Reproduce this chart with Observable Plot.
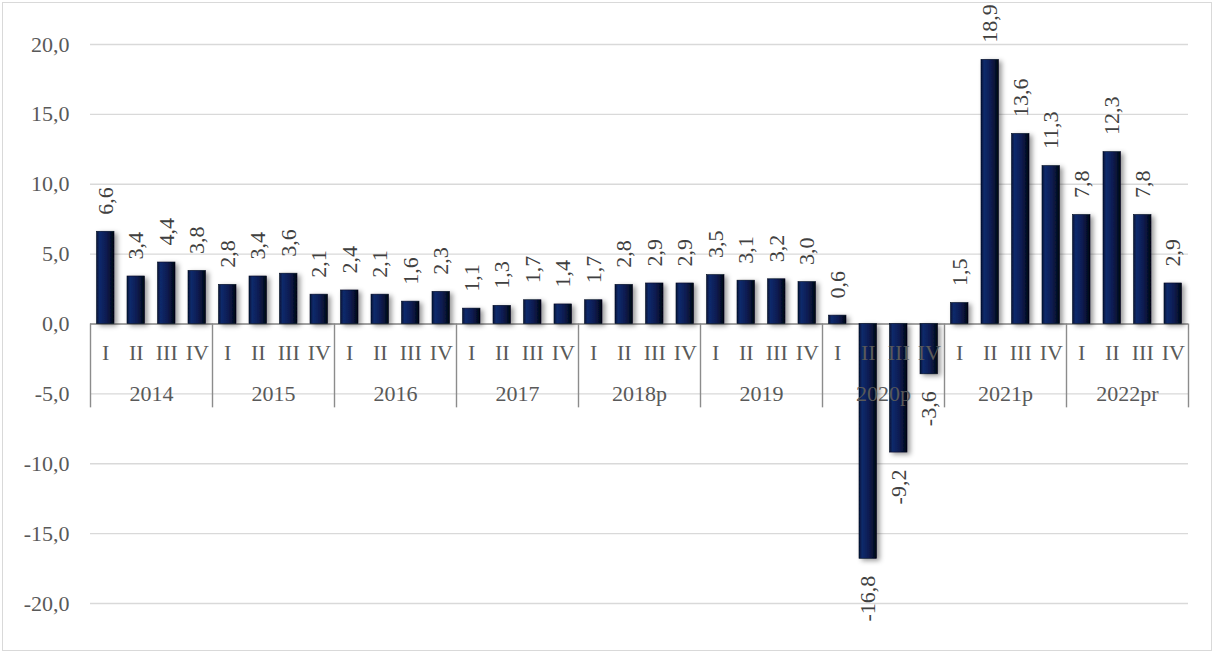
<!DOCTYPE html>
<html>
<head>
<meta charset="utf-8">
<script src="https://cdn.jsdelivr.net/npm/d3@7"></script>
<script src="https://cdn.jsdelivr.net/npm/@observablehq/plot@0.6"></script>
<style>
  html, body { margin: 0; padding: 0; background: #fff; }
  #wrap { position: relative; width: 1215px; height: 654px; }
  #frame { position: absolute; left: 2px; top: 2px; width: 1208px; height: 647px; border: 1.5px solid #d9d9d9; pointer-events: none; }
</style>
</head>
<body>
<div id="wrap"><div id="frame"></div></div>
<script>
const years = ["2014", "2015", "2016", "2017", "2018p", "2019", "2020p", "2021p", "2022pr"];
const quarters = ["I", "II", "III", "IV"];
const values = [
  6.6, 3.4, 4.4, 3.8,
  2.8, 3.4, 3.6, 2.1,
  2.4, 2.1, 1.6, 2.3,
  1.1, 1.3, 1.7, 1.4,
  1.7, 2.8, 2.9, 2.9,
  3.5, 3.1, 3.2, 3.0,
  0.6, -16.8, -9.2, -3.6,
  1.5, 18.9, 13.6, 11.3,
  7.8, 12.3, 7.8, 2.9
];
const yTicks = [-20, -15, -10, -5, 0, 5, 10, 15, 20];

const data = values.map((v, i) => ({ i, v, q: quarters[i % 4], year: years[Math.floor(i / 4)] }));
const pos = data.filter(d => d.v >= 0);
const neg = data.filter(d => d.v < 0);
const groups = years.map((y, g) => ({ year: y, mid: g * 4 + 2 }));
const bounds = d3.range(0, years.length * 4 + 1, 4);

const fmt1 = d => d3.format(".1f")(d).replace(".", ",").replace("−", "-");
const font = "'Liberation Serif', 'Times New Roman', serif";

const chart = Plot.plot({
  width: 1215,
  height: 654,
  marginLeft: 90,
  marginRight: 27,
  marginTop: 44,
  marginBottom: 51,
  style: { fontFamily: font, fontSize: "22px", background: "transparent" },
  x: { type: "linear", domain: [0, 36], axis: null },
  y: { domain: [-20, 20], axis: null },
  marks: [
    Plot.gridY(yTicks, { stroke: "#d9d9d9", strokeOpacity: 1, strokeWidth: 1.4 }),
    Plot.axisY(yTicks, { label: null, tickSize: 0, tickPadding: 21, tickFormat: fmt1, fill: "#595959", fontSize: 22 }),
    Plot.ruleY([0], { stroke: "#8c8c8c", strokeWidth: 1.4 }),
    Plot.ruleX(bounds, { x: d => d, y1: 0, y2: -6, stroke: "#8c8c8c", strokeWidth: 1.4 }),
    Plot.rect(data, { x1: "i", x2: d => d.i + 1, y1: 0, y2: "v", insetLeft: 6.5, insetRight: 6.5, fill: "url(#barGrad)", stroke: "#000a22", strokeWidth: 0.6 }),
    Plot.text(data, { x: d => d.i + 0.5, y: () => -2.07, text: "q", fill: "#595959", fontSize: 22, lineAnchor: "middle" }),
    Plot.text(groups, { x: "mid", y: () => -5, text: "year", fill: "#595959", fontSize: 22, lineAnchor: "middle" }),
    Plot.text(pos, {
      x: d => d.i + 0.5, y: "v", text: d => fmt1(d.v), rotate: -90,
      textAnchor: "start", dy: -17, fill: "#404040", fontSize: 22, lineAnchor: "middle"
    }),
    Plot.text(neg, {
      x: d => d.i + 0.5, y: "v", text: d => fmt1(d.v), rotate: -90,
      textAnchor: "end", dy: 17, fill: "#404040", fontSize: 22, lineAnchor: "middle"
    })
  ]
});

const ns = "http://www.w3.org/2000/svg";
const defs = document.createElementNS(ns, "defs");
defs.innerHTML = `
  <linearGradient id="barGrad" x1="0" x2="1" y1="0" y2="0">
    <stop offset="0" stop-color="#071235"/>
    <stop offset="0.18" stop-color="#112a6c"/>
    <stop offset="0.55" stop-color="#0b1c52"/>
    <stop offset="0.82" stop-color="#061030"/>
    <stop offset="1" stop-color="#000308"/>
  </linearGradient>
  <filter id="barShadow" x="-50%" y="-20%" width="200%" height="140%">
    <feDropShadow dx="3" dy="2" stdDeviation="2.5" flood-color="#000" flood-opacity="0.4"/>
  </filter>`;
chart.insertBefore(defs, chart.firstChild);
chart.querySelectorAll('g[aria-label="rect"]').forEach(g => g.setAttribute("filter", "url(#barShadow)"));

document.getElementById("wrap").insertBefore(chart, document.getElementById("frame"));
</script>
</body>
</html>
